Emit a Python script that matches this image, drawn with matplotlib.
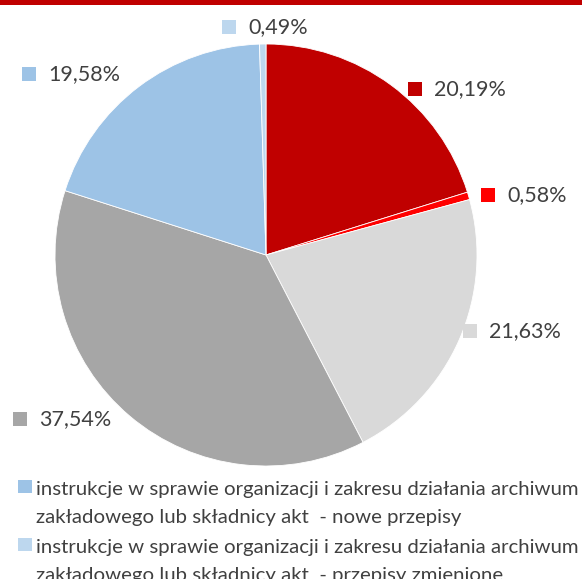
import matplotlib
matplotlib.use("Agg")
import matplotlib.pyplot as plt
from matplotlib.patches import Rectangle

# Data
categories = [
    "nowe przepisy (A)", "przepisy zmienione (A)",
    "nowe przepisy (B)", "przepisy zmienione (B)",
    "instrukcje - nowe przepisy", "instrukcje - przepisy zmienione",
]
values = [20.19, 0.58, 21.63, 37.54, 19.58, 0.49]
value_labels = ["20,19%", "0,58%", "21,63%", "37,54%", "19,58%", "0,49%"]
colors = ["#C00000", "#FF0000", "#D9D9D9", "#A6A6A6", "#9DC3E6", "#BDD7EE"]
legend_lines = [
    ["instrukcje w sprawie organizacji i zakresu działania archiwum",
     "zakładowego lub składnicy akt  - nowe przepisy"],
    ["instrukcje w sprawie organizacji i zakresu działania archiwum",
     "zakładowego lub składnicy akt  - przepisy zmienione"],
]
legend_colors = ["#9DC3E6", "#BDD7EE"]

W, H = 582, 579
fig = plt.figure(figsize=(W / 100, H / 100), dpi=100)
ax = fig.add_axes([0, 0, 1, 1])

FONT = ["Lato", "DejaVu Sans"]
TXT = "#404040"

cx, cy, r = 266, H - 255, 211
ax.pie(values, colors=colors, startangle=90, counterclock=False,
       center=(cx, cy), radius=r, frame=True,
       wedgeprops=dict(edgecolor="white", linewidth=0.6))
ax.set_xlim(0, W)
ax.set_ylim(0, H)
ax.set_aspect("auto")
ax.axis("off")

# top red rule
ax.add_patch(Rectangle((0, H - 5), W, 5, color="#C00000", lw=0, zorder=5))

# label positions (marker left x, center y in pixels from top)
label_pos = [(408, 89), (481, 195), (463, 331), (13, 419), (22, 74), (222, 27)]
for (mx, my), lab, col in zip(label_pos, value_labels, colors):
    ax.add_patch(Rectangle((mx, H - my - 7), 14, 14, color=col, lw=0, zorder=5))
    ax.text(mx + 26, H - my, lab, fontsize=15.5, color=TXT, family=FONT,
            va="center", ha="left", zorder=6)

# legend (partially visible, cut by the figure edge)
leg_base = [[495, 523], [553, 581]]
for bases, lines, col in zip(leg_base, legend_lines, legend_colors):
    ax.add_patch(Rectangle((18, H - bases[0] + 2), 14, 13, color=col, lw=0, zorder=5))
    for b, t in zip(bases, lines):
        ax.text(36, H - b, t, fontsize=14.7, color=TXT, family=FONT,
                va="baseline", ha="left", zorder=6)

fig.savefig("out.png", dpi=100)
